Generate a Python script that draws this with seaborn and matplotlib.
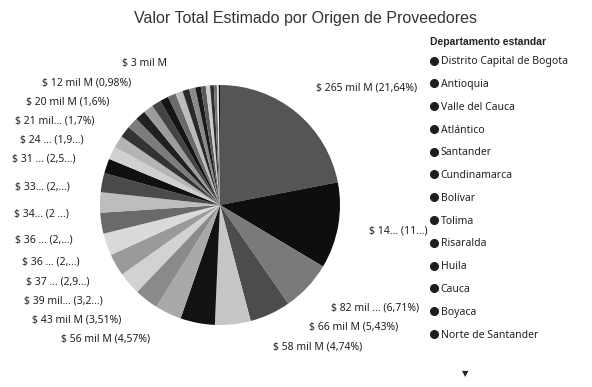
import numpy as np
import matplotlib
matplotlib.use("Agg")
import matplotlib.pyplot as plt
from matplotlib.lines import Line2D
import seaborn as sns

# data (values in mil M, sorted like the legend)
departamentos = [
    "Distrito Capital de Bogota", "Antioquia", "Valle del Cauca", "Atlántico",
    "Santander", "Cundinamarca", "Bolívar", "Tolima", "Risaralda", "Huila",
    "Cauca", "Boyaca", "Norte de Santander", "Meta", "Nariño", "Córdoba",
    "Caldas", "Quindío", "Magdalena", "Cesar", "Sucre", "Casanare",
    "La Guajira", "Caquetá", "Chocó", "Putumayo", "Arauca", "San Andrés",
    "Amazonas", "Guaviare", "Vichada", "Sin Descripcion", "Vaupés", "Guainía",
]
valores = [
    265, 140, 82, 66.5, 58, 56, 43, 39, 37, 36,
    36, 34, 33, 31, 24, 21, 20, 19, 18, 17,
    16, 15, 14, 13, 12, 11, 10, 9, 8, 7,
    6, 5, 3, 2,
]
etiquetas = [
    "$ 265 mil M (21,64%)", "$ 14... (11...)", "$ 82 mil ... (6,71%)",
    "$ 66 mil M (5,43%)", "$ 58 mil M (4,74%)", "$ 56 mil M (4,57%)",
    "$ 43 mil M (3,51%)", "$ 39 mil... (3,2...)", "$ 37 ... (2,9...)",
    "$ 36 ... (2,...)", "$ 36 ... (2,...)", "$ 34... (2 ...)",
    "$ 33... (2,...)", "$ 31 ... (2,5...)", "$ 24 ... (1,9...)",
    "$ 21 mil... (1,7%)", "$ 20 mil M (1,6%)", "", "", "", "", "", "", "",
    "$ 12 mil M (0,98%)", "", "", "", "", "", "", "", "$ 3 mil M", "",
]
leyenda_n = 13

grises = [
    "#555555", "#0e0e0e", "#7a7a7a", "#4c4c4c", "#c6c6c6", "#121212",
    "#a9a9a9", "#8a8a8a", "#d2d2d2", "#9a9a9a", "#dadada", "#6a6a6a",
    "#bdbdbd", "#4a4a4a", "#101010", "#d0d0d0", "#b4b4b4", "#333333",
    "#7c7c7c", "#202020", "#9c9c9c", "#444444", "#151515", "#6a6a6a",
    "#bcbcbc", "#2a2a2a", "#8a8a8a", "#1a1a1a", "#5a5a5a", "#cccccc",
    "#303030", "#707070", "#e0e0e0", "#101010",
]

sns.set_theme(style="white")
plt.rcParams["font.family"] = ["Liberation Sans", "DejaVu Sans"]
fuente = ["Noto Sans", "DejaVu Sans"]

fig = plt.figure(figsize=(5.92, 3.87), dpi=100)
ax = fig.add_axes([100 / 592, 62 / 387, 240 / 592, 240 / 387])
wedges, _ = ax.pie(valores, colors=grises, startangle=90, counterclock=False,
                   radius=1, wedgeprops=dict(linewidth=0))
ax.set_xlim(-1, 1)
ax.set_ylim(-1, 1)
ax.set_aspect("equal")
ax.axis("off")

# label placement: around the pie, spread vertically so they don't collide
R = 1.26
gap = 0.16
tope, piso = 1.18, -1.18
izq, der = [], []
for w, txt in zip(wedges, etiquetas):
    if not txt:
        continue
    a = np.deg2rad((w.theta1 + w.theta2) / 2)
    x, y = R * np.cos(a), R * np.sin(a)
    if x > 0:
        der.append([y, txt])
    else:
        izq.append([y + 0.12 + 0.15 * max(np.sin(a), 0), txt])

for lado in (izq, der):
    lado.sort(key=lambda t: t[0])
    lado[0][0] = max(lado[0][0], piso)
    for i in range(1, len(lado)):
        lado[i][0] = max(lado[i][0], lado[i - 1][0] + gap)
    lado[-1][0] = min(lado[-1][0], tope)
    for i in range(len(lado) - 2, -1, -1):
        lado[i][0] = min(lado[i][0], lado[i + 1][0] - gap)

for y, txt in izq:
    x = -max(np.sqrt(max(R ** 2 - y ** 2, 0)), 0.22)
    ax.text(x, y, txt, ha="right", va="center", fontsize=7.5, color="#222222",
            family=fuente)
for y, txt in der:
    x = max(np.sqrt(max(R ** 2 - y ** 2, 0)), 0.2)
    ax.text(x, y, txt, ha="left", va="center", fontsize=7.5, color="#222222",
            family=fuente)

fig.text(305 / 592, 1 - 18 / 387, "Valor Total Estimado por Origen de Proveedores",
         ha="center", va="center", fontsize=11.5, color="#333333")

# legend: title as its own text, entries below
fig.text(430 / 592, 1 - 42 / 387, "Departamento estandar", ha="left", va="center",
         fontsize=7.5, fontweight="bold", color="#222222", family="Liberation Sans")
handles = [Line2D([], [], marker="o", linestyle="", color="#1e1e1e", markersize=5.5)
           for _ in range(leyenda_n)]
leg = fig.legend(handles, departamentos[:leyenda_n], loc="upper left",
                 bbox_to_anchor=(424 / 592, 1 - 49 / 387), frameon=False,
                 labelspacing=1.13, handlelength=0.5, handletextpad=0.4,
                 borderpad=0.2, prop={"family": fuente, "size": 7.5})
for t in leg.get_texts():
    t.set_color("#222222")

fig.text(465 / 592, 1 - 374 / 387, "▼", ha="center", va="center",
         fontsize=6, color="#222222", family="DejaVu Sans")

fig.savefig("out.png", dpi=100)
